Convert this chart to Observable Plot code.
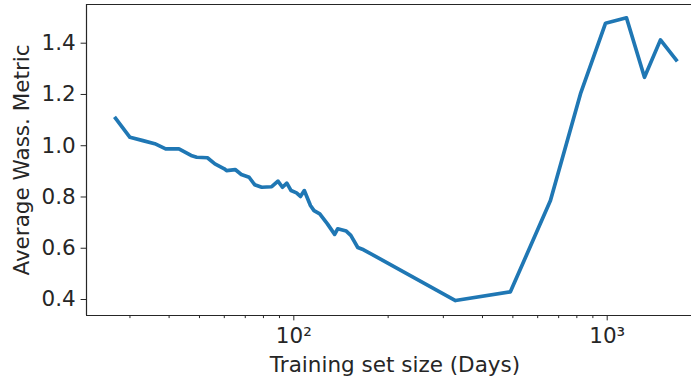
<!DOCTYPE html>
<html>
<head>
<meta charset="utf-8">
<script src="https://cdn.jsdelivr.net/npm/d3@7"></script>
<script src="https://cdn.jsdelivr.net/npm/@observablehq/plot@0.6"></script>
<style>
  html, body { margin: 0; padding: 0; background: #fff; overflow: hidden; }
  svg { overflow: hidden; }
</style>
</head>
<body>
<div id="chart"></div>
<script>
// Training set size in days and the average Wasserstein metric at each size
const days = [27, 30, 33, 36, 39, 43, 47, 49, 53, 56, 60, 61, 65, 68, 72, 75, 79, 85, 89, 92, 95, 98,
  102, 105, 108, 113, 116, 121, 128, 135, 138, 147, 152, 160, 167, 328, 491, 659, 822, 988, 1152, 1315, 1479, 1660];
const wass = [1.107, 1.033, 1.020, 1.008, 0.988, 0.988, 0.962, 0.955, 0.953, 0.929, 0.910, 0.903, 0.907, 0.888,
  0.877, 0.848, 0.838, 0.840, 0.862, 0.838, 0.854, 0.825, 0.816, 0.802, 0.825, 0.767, 0.747, 0.734, 0.695,
  0.654, 0.676, 0.667, 0.650, 0.603, 0.594, 0.396, 0.430, 0.786, 1.203, 1.478, 1.499, 1.267, 1.413, 1.335];

// Axis ticks and labels
const yTicks = [0.4, 0.6, 0.8, 1.0, 1.2, 1.4];
const xMajor = [100, 1000];
const xMajorLabels = ["10²", "10³"];
const xMinor = [30, 40, 50, 60, 70, 80, 90, 200, 300, 400, 500, 600, 700, 800, 900];
const xLabel = "Training set size (Days)";
const yLabel = "Average Wass. Metric";

const xDomain = [21.8, 2029];
const yDomain = [0.3376, 1.551];

const rows = days.map((d, i) => ({day: d, metric: wass[i]}));

const ink = "#262626";
const fs = 21.5;

const chart = Plot.plot({
  width: 691,
  height: 382,
  marginLeft: 86,
  marginRight: 0,
  marginTop: 4,
  marginBottom: 67,
  style: {fontFamily: "'DejaVu Sans', sans-serif", fontSize: fs + "px", color: ink, background: "#fff"},
  x: {type: "log", domain: xDomain, range: [86, 703]},
  y: {domain: yDomain},
  marks: [
    // spines: left, top, bottom
    Plot.ruleX([xDomain[0]], {stroke: ink, strokeWidth: 1.2}),
    Plot.ruleY(yDomain, {stroke: ink, strokeWidth: 1.2}),
    Plot.axisY({ticks: yTicks, tickSize: 5.4, tickPadding: 5.4, tickFormat: d => d.toFixed(1),
      label: null, fontSize: fs, stroke: ink, fill: ink}),
    Plot.axisX({ticks: xMajor, tickSize: 5.4, tickPadding: 7, tickFormat: d => xMajorLabels[xMajor.indexOf(d)],
      label: null, fontSize: fs, stroke: ink, fill: ink}),
    Plot.axisX({ticks: xMinor, tickSize: 3.1, tickFormat: () => "", label: null, stroke: ink}),
    Plot.line(rows, {x: "day", y: "metric", stroke: "#1f77b4", strokeWidth: 3.7,
      strokeLinejoin: "round", strokeLinecap: "square"}),
    Plot.text([xLabel], {frameAnchor: "bottom", dx: 6, dy: 41.7, lineAnchor: "top",
      fontSize: fs, fill: ink}),
    Plot.text([yLabel], {frameAnchor: "left", dx: -64.4, rotate: -90, lineAnchor: "middle",
      textAnchor: "middle", fontSize: fs, fill: ink})
  ]
});

document.getElementById("chart").appendChild(chart);
</script>
</body>
</html>
